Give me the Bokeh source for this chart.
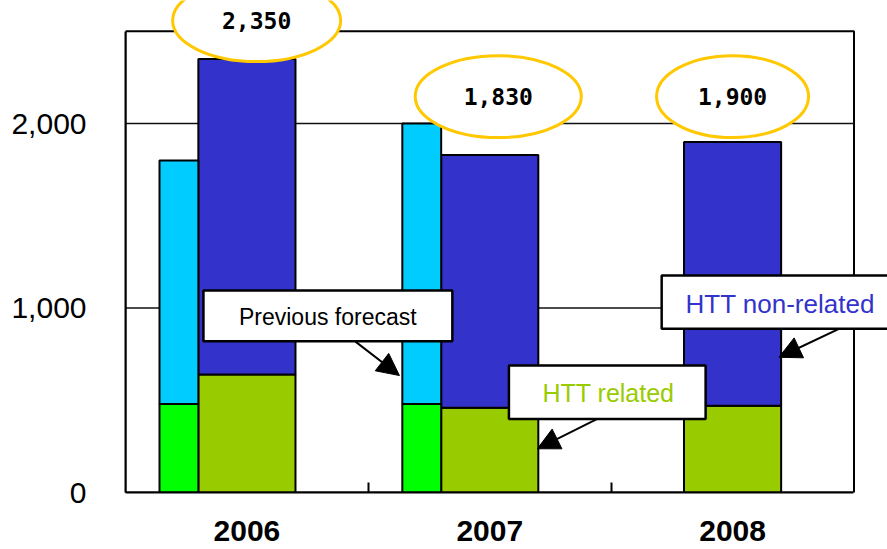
import numpy as np
from bokeh.plotting import figure
from bokeh.models import (ColumnDataSource, Range1d, FixedTicker, NumeralTickFormatter,
                          BoxAnnotation, Label, Arrow, NormalHead)
from bokeh.core.properties import value
from bokeh.embed import file_html
from bokeh.resources import INLINE

# --- data -------------------------------------------------------------
years = ["2006", "2007", "2008"]
htt_related = [640, 460, 470]          # lower segment of the actual bars
totals = [2350, 1830, 1900]            # actual totals (shown in the bubbles)

forecast_years = ["2006", "2007"]
forecast_related = [480, 480]
forecast_totals = [1800, 2000]

y_ticks = [0, 1000, 2000]
y_max = 2500

# --- styling ----------------------------------------------------------
BLUE = "#3333CC"
OLIVE = "#99CC00"
CYAN = "#00CCFF"
GREEN = "#00FF00"
GOLD = "#FFC800"
FONT = "Liberation Sans"

ACTUAL_W = 0.40
FORECAST_W = 0.16

p = figure(width=887, height=549, output_backend="svg", toolbar_location=None,
           x_range=Range1d(0, 3.138), y_range=Range1d(0, 2667),
           min_border_left=125, min_border_right=0, min_border_top=0,
           min_border_bottom=57)
p.outline_line_color = None
p.xgrid.visible = False
p.ygrid.visible = False

centers = np.arange(len(years)) + 0.5
center_of = dict(zip(years, centers))

# plot frame (top / right edges drawn under everything else)
p.add_layout(BoxAnnotation(left=0, right=len(years), bottom=0, top=y_max,
                           fill_color=None, fill_alpha=0, line_color="black",
                           line_alpha=1.0, line_width=2, level="underlay"))

# horizontal grid lines, limited to the frame
p.segment(x0=0, x1=len(years), y0=y_ticks[1:], y1=y_ticks[1:],
          line_color="#111111", line_width=1.5)

# actual bars: related + non-related stacked
actual = ColumnDataSource(dict(
    x=centers,
    related=htt_related,
    total=totals,
))
p.vbar(x="x", width=ACTUAL_W, bottom=0, top="related", source=actual,
       fill_color=OLIVE, line_color="black", line_width=2)
p.vbar(x="x", width=ACTUAL_W, bottom="related", top="total", source=actual,
       fill_color=BLUE, line_color="black", line_width=2)

# previous-forecast bars, placed just left of the actual bars
fx = [center_of[y] - ACTUAL_W / 2 - FORECAST_W / 2 for y in forecast_years]
forecast = ColumnDataSource(dict(
    x=fx,
    related=forecast_related,
    total=forecast_totals,
))
p.vbar(x="x", width=FORECAST_W, bottom=0, top="related", source=forecast,
       fill_color=GREEN, line_color="black", line_width=2)
p.vbar(x="x", width=FORECAST_W, bottom="related", top="total", source=forecast,
       fill_color=CYAN, line_color="black", line_width=2)

# value bubbles above the actual bars
bubble_dx = [0.04, 0.035, 0.0]
bubble_y = [2558, 2146, 2146]
bubble_w = [0.692, 0.684, 0.626]
bubbles = ColumnDataSource(dict(
    x=centers + np.array(bubble_dx),
    y=bubble_y,
    w=bubble_w,
    label=[f"{v:,}" for v in totals],
))
p.ellipse(x="x", y="y", width="w", height=444, source=bubbles,
          fill_color="white", line_color=GOLD, line_width=3)
p.text(x="x", y="y", text="label", source=bubbles,
       text_align="center", text_baseline="middle",
       text_font=value("DejaVu Sans Mono"), text_font_style="bold",
       text_font_size="23px", text_color="black")

# callouts: box, caption, arrow
callouts = [
    # text, color, size, box (l, r, b, t), text pos, arrow (x0, y0, x1, y1)
    ("Previous forecast", "black", "23px", (0.321, 1.346, 820, 1095), (0.833, 951),
     (0.947, 818, 1.128, 634)),
    ("HTT related", OLIVE, "25px", (1.579, 2.389, 399, 688), (1.989, 542),
     (1.943, 399, 1.696, 237)),
    ("HTT non-related", BLUE, "26px", (2.208, 3.18, 887, 1176), (2.696, 1020),
     (2.938, 887, 2.691, 733)),
]
for text, color, size, (l, r, b, t), (tx, ty), (ax0, ay0, ax1, ay1) in callouts:
    p.add_layout(Arrow(x_start=ax0, y_start=ay0, x_end=ax1, y_end=ay1,
                       line_color="black", line_width=2,
                       end=NormalHead(size=22, fill_color="black", line_color="black")))
    p.add_layout(BoxAnnotation(left=l, right=r, bottom=b, top=t,
                               fill_color="white", fill_alpha=1.0,
                               line_color="black", line_alpha=1.0, line_width=2.5))
    p.add_layout(Label(x=tx, y=ty, text=text, text_align="center",
                       text_baseline="middle", text_font=FONT,
                       text_font_size=size, text_color=color))

# axes
p.xaxis.bounds = (0, len(years))
p.xaxis.ticker = FixedTicker(ticks=list(centers), minor_ticks=list(range(1, len(years))))
p.xaxis.major_label_overrides = {float(c): y for c, y in zip(centers, years)}
p.xaxis.major_tick_in = 0
p.xaxis.major_tick_out = 0
p.xaxis.minor_tick_in = 10
p.xaxis.minor_tick_out = 0
p.xaxis.minor_tick_line_width = 2
p.xaxis.axis_line_width = 2
p.xaxis.major_label_standoff = 28
p.xaxis.major_label_text_font = FONT
p.xaxis.major_label_text_font_style = "bold"
p.xaxis.major_label_text_font_size = "30px"
p.xaxis.major_label_text_color = "black"

p.yaxis.bounds = (0, y_max)
p.yaxis.ticker = FixedTicker(ticks=y_ticks)
p.yaxis.formatter = NumeralTickFormatter(format="0,0")
p.yaxis.major_tick_in = 0
p.yaxis.major_tick_out = 0
p.yaxis.minor_tick_line_color = None
p.yaxis.axis_line_width = 2
p.yaxis.major_label_standoff = 39
p.yaxis.major_label_text_font = FONT
p.yaxis.major_label_text_font_size = "30px"
p.yaxis.major_label_text_color = "black"

open("out.html", "w").write(file_html(p, INLINE))
